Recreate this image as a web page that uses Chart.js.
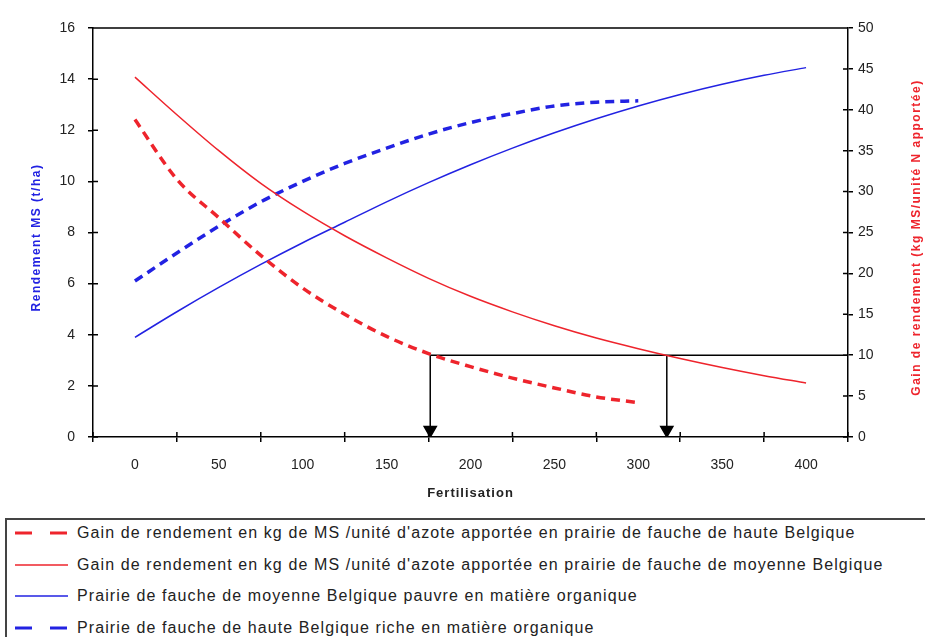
<!DOCTYPE html>
<html>
<head>
<meta charset="utf-8">
<script src="https://cdn.jsdelivr.net/npm/chart.js@4.4.1/dist/chart.umd.min.js"></script>
<style>
  body { margin: 0; background: #fff; width: 925px; height: 637px; overflow: hidden; position: relative;
         font-family: "Liberation Sans", Arial, sans-serif; }
  #chart { display: block; }
  #legend { position: absolute; left: 5px; top: 518px; width: 940px; height: 140px;
            border-top: 2px solid #444; border-left: 2px solid #444; }
  .row { position: absolute; left: 0; height: 20px; display: flex; align-items: center; white-space: nowrap;
         font-size: 16px; letter-spacing: 1.1px; color: #222; }
  .row svg { margin-left: 8px; margin-right: 9px; }
</style>
</head>
<body>
<canvas id="chart" width="925" height="515"></canvas>
<div id="legend"></div>
<script>
// fertilisation (kg N/ha)
const fertilisation = [0, 25, 50, 75, 100, 125, 150, 175, 200, 225, 250, 275, 300, 325, 350, 375, 400];
const xTicks = [0, 50, 100, 150, 200, 250, 300, 350, 400];

// gain de rendement (kg MS / unité N) - axe de droite
const gainHaute = [38.8, 31.5, 26.8, 22.2, 18.2, 15.0, 12.3, 10.2, 8.6, 7.2, 6.0, 4.9, 4.2];
const gainMoyenne = [44.0, 39.4, 35.0, 31.0, 27.6, 24.6, 21.9, 19.4, 17.2, 15.3, 13.6, 12.1, 10.8, 9.6, 8.5, 7.5, 6.6];

// rendement MS (t/ha) - axe de gauche
const rendementMoyennePauvre = [3.9, 4.9, 5.85, 6.75, 7.6, 8.4, 9.2, 9.95, 10.65, 11.3, 11.9, 12.45, 12.95, 13.4, 13.8, 14.15, 14.45];
const rendementHauteRiche = [6.1, 7.2, 8.25, 9.2, 10.0, 10.7, 11.3, 11.85, 12.3, 12.65, 12.95, 13.1, 13.15];

// lecture de la dose pour un gain de 10 kg MS / unité N
const seuilGain = 10;
const doseSeuil = [176, 317];

const labels = [
  "Gain de rendement en kg de MS /unité d'azote apportée en prairie de fauche de haute Belgique",
  "Gain de rendement en kg de MS /unité d'azote apportée en prairie de fauche de moyenne Belgique",
  "Prairie de fauche de moyenne Belgique pauvre en matière organique",
  "Prairie de fauche de haute Belgique riche en matière organique"
];

const RED = 'rgb(238, 36, 44)';
const BLUE = 'rgb(34, 34, 226)';

const toPoints = arr => arr.map((v, i) => ({ x: fertilisation[i], y: v }));

const arrow = x => ({
  data: [{ x: x, y: seuilGain }, { x: x, y: 0.85 }],
  yAxisID: 'y2', borderColor: '#000', borderWidth: 1.5, tension: 0,
  pointStyle: 'triangle', rotation: 180, pointRadius: [0, 7],
  pointBackgroundColor: '#000', pointBorderColor: '#000', legend: false
});

const datasets = [
  { label: labels[0], data: toPoints(gainHaute), yAxisID: 'y2', borderColor: RED, borderWidth: 3.5, borderDash: [9, 6] },
  { label: labels[1], data: toPoints(gainMoyenne), yAxisID: 'y2', borderColor: RED, borderWidth: 1.5 },
  { label: labels[2], data: toPoints(rendementMoyennePauvre), yAxisID: 'y', borderColor: BLUE, borderWidth: 1.5 },
  { label: labels[3], data: toPoints(rendementHauteRiche), yAxisID: 'y', borderColor: BLUE, borderWidth: 3.5, borderDash: [9, 6] },
  { data: [{ x: doseSeuil[0], y: seuilGain }, { x: 425, y: seuilGain }], yAxisID: 'y2',
    borderColor: '#000', borderWidth: 1.5, tension: 0, legend: false },
  arrow(doseSeuil[0]),
  arrow(doseSeuil[1])
];

const font = '"Liberation Sans", Arial, sans-serif';

// titres d'axes, bord supérieur et moitiés intérieures des graduations
const decorations = {
  id: 'decorations',
  afterDraw(chart) {
    const { ctx, chartArea: a, scales: { x, y, y2 } } = chart;
    ctx.save();
    ctx.strokeStyle = '#000';
    ctx.lineWidth = 1.5;
    ctx.beginPath();
    ctx.moveTo(a.left, a.top);
    ctx.lineTo(a.right, a.top);
    xTicks.concat(xTicks[xTicks.length - 1] + 50).forEach(v => {
      const px = x.getPixelForValue(v - 25);
      ctx.moveTo(px, a.bottom);
      ctx.lineTo(px, a.bottom - 5);
    });
    y.ticks.forEach(t => {
      const py = y.getPixelForValue(t.value);
      ctx.moveTo(a.left, py);
      ctx.lineTo(a.left + 5, py);
    });
    y2.ticks.forEach(t => {
      const py = y2.getPixelForValue(t.value);
      ctx.moveTo(a.right, py);
      ctx.lineTo(a.right - 5, py);
    });
    ctx.stroke();

    ctx.textAlign = 'center';
    ctx.textBaseline = 'middle';
    ctx.font = 'bold 12px ' + font;
    ctx.letterSpacing = '1.5px';
    const midY = (a.top + a.bottom) / 2 + 5;
    [['Rendement MS (t/ha)', 37, BLUE], ['Gain de rendement (kg MS/unité N apportée)', 917, RED]].forEach(([txt, px, col]) => {
      ctx.save();
      ctx.translate(px, midY);
      ctx.rotate(-Math.PI / 2);
      ctx.fillStyle = col;
      ctx.fillText(txt, 0, 0);
      ctx.restore();
    });
    ctx.font = 'bold 13px ' + font;
    ctx.letterSpacing = '1px';
    ctx.fillStyle = '#222';
    ctx.fillText('Fertilisation', (a.left + a.right) / 2, 493);
    ctx.restore();
  }
};

const tickStyle = { font: { family: font, size: 14 }, color: '#222' };
const gridStyle = { drawOnChartArea: false, tickLength: 5, color: '#000', lineWidth: 1.5 };
const borderStyle = { color: '#000', width: 1.5 };

const chart = new Chart(document.getElementById('chart'), {
  type: 'line',
  data: { datasets: datasets },
  options: {
    responsive: false,
    animation: false,
    layout: { padding: { top: 28, left: 0, right: 0, bottom: 0 } },
    plugins: { legend: { display: false }, tooltip: { enabled: false } },
    elements: { point: { radius: 0 }, line: { cubicInterpolationMode: 'monotone', fill: false } },
    scales: {
      x: {
        type: 'linear', min: -25, max: 425,
        afterBuildTicks: s => { s.ticks = xTicks.map(v => ({ value: v })); },
        afterFit: s => { s.height = 78; },
        grid: Object.assign({ offset: true }, gridStyle),
        border: borderStyle,
        ticks: Object.assign({ padding: 15, autoSkip: false, maxRotation: 0 }, tickStyle)
      },
      y: {
        position: 'left', min: 0, max: 16,
        afterFit: s => { s.width = 93; },
        grid: gridStyle, border: borderStyle,
        ticks: Object.assign({ stepSize: 2, padding: 13 }, tickStyle)
      },
      y2: {
        position: 'right', min: 0, max: 50,
        afterFit: s => { s.width = 77; },
        grid: gridStyle, border: borderStyle,
        ticks: Object.assign({ stepSize: 5, padding: 5 }, tickStyle)
      }
    }
  },
  plugins: [decorations]
});

// légende
const legend = document.getElementById('legend');
const rowCenters = [13, 45, 76, 108];
chart.data.datasets.filter(d => d.legend !== false).forEach((d, i) => {
  const row = document.createElement('div');
  row.className = 'row';
  row.style.top = (rowCenters[i] - 10) + 'px';
  const dash = d.borderDash ? 'stroke-dasharray="17 18"' : '';
  const w = d.borderDash ? 3 : 1.5;
  row.innerHTML = '<svg width="53" height="8"><line x1="0" y1="4" x2="53" y2="4" stroke="' + d.borderColor +
    '" stroke-width="' + w + '" ' + dash + '/></svg><span>' + d.label + '</span>';
  legend.appendChild(row);
});
</script>
</body>
</html>
